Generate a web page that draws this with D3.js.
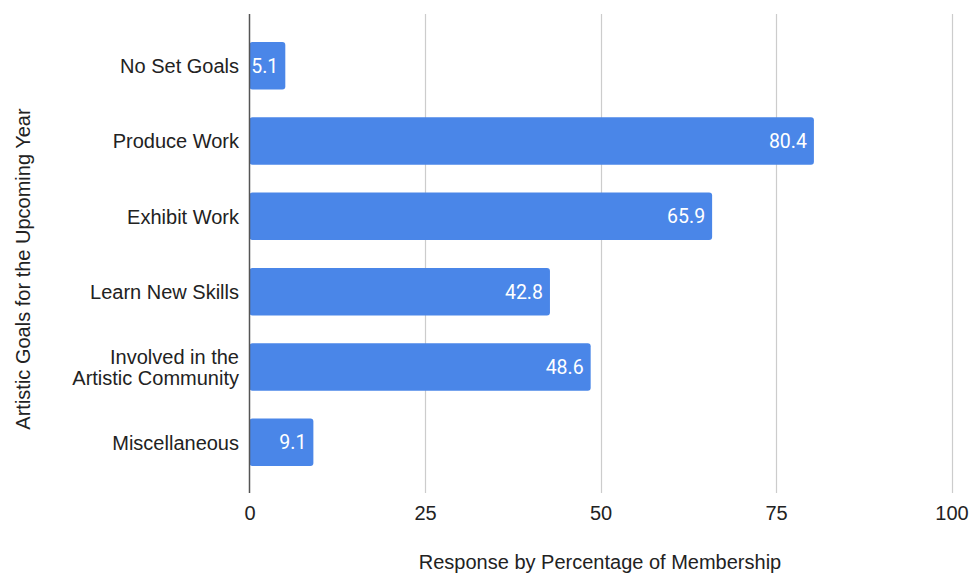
<!DOCTYPE html>
<html>
<head>
<meta charset="utf-8">
<script src="https://cdn.jsdelivr.net/npm/d3@7"></script>
<style>
  html, body { margin: 0; padding: 0; background: #fff; }
  svg { display: block; font-family: "Liberation Sans", Arial, sans-serif; }
</style>
</head>
<body>
<svg id="chart" width="974" height="577"></svg>
<script>
// Survey responses: artistic goals for the upcoming year (% of membership)
const categories = [
  "No Set Goals",
  "Produce Work",
  "Exhibit Work",
  "Learn New Skills",
  "Involved in the Artistic Community",
  "Miscellaneous"
];
const values = [5.1, 80.4, 65.9, 42.8, 48.6, 9.1];
const xTicks = [0, 25, 50, 75, 100];
const xTitle = "Response by Percentage of Membership";
const yTitle = "Artistic Goals for the Upcoming Year";

const svg = d3.select("#chart");
const plot = { left: 249.5, right: 951.5, top: 14, bottom: 493 };
const fontSize = 20;

const x = d3.scaleLinear().domain([0, 100]).range([plot.left, plot.right]);
const y = d3.scaleBand()
  .domain(categories)
  .range([28, 480])
  .paddingInner(0.37)
  .paddingOuter(0.185);

// vertical gridlines
svg.append("g")
  .selectAll("line")
  .data(xTicks.filter(t => t > 0))
  .join("line")
  .attr("x1", d => Math.round(x(d)) + 0.5)
  .attr("x2", d => Math.round(x(d)) + 0.5)
  .attr("y1", plot.top)
  .attr("y2", plot.bottom)
  .attr("stroke", "#cccccc")
  .attr("stroke-width", 1.2);

// x tick labels via a bottom axis with hidden domain/ticks
const xAxis = svg.append("g")
  .attr("transform", `translate(0,${plot.bottom})`)
  .call(d3.axisBottom(x).tickValues(xTicks).tickSize(0).tickPadding(13));
xAxis.select(".domain").remove();
xAxis.selectAll("text")
  .attr("font-family", "Liberation Sans, Arial, sans-serif")
  .attr("font-size", fontSize)
  .attr("fill", "#222");

// bars
svg.append("g")
  .selectAll("rect")
  .data(categories.map((c, i) => ({ c, v: values[i] })))
  .join("rect")
  .attr("x", x(0))
  .attr("y", d => y(d.c))
  .attr("width", d => x(d.v) - x(0))
  .attr("height", y.bandwidth())
  .attr("rx", 3)
  .attr("fill", "#4a86e8");

// baseline axis line
svg.append("line")
  .attr("x1", Math.round(x(0)) - 0.5)
  .attr("x2", Math.round(x(0)) - 0.5)
  .attr("y1", plot.top)
  .attr("y2", plot.bottom)
  .attr("stroke", "#555")
  .attr("stroke-width", 1.5);

// value labels inside the bar ends
svg.append("g")
  .selectAll("text")
  .data(categories.map((c, i) => ({ c, v: values[i] })))
  .join("text")
  .attr("x", d => x(d.v) - 7)
  .attr("y", d => y(d.c) + y.bandwidth() / 2)
  .attr("dy", "0.36em")
  .attr("text-anchor", "end")
  .attr("font-family", "Roboto, sans-serif")
  .attr("font-weight", 400)
  .attr("font-size", 19.5)
  .attr("fill", "#fff")
  .text(d => d.v.toFixed(1));

// category labels, wrapped to a max width
const maxLabelWidth = 185;
const measure = svg.append("text").attr("font-size", fontSize).attr("visibility", "hidden");
function wrap(str) {
  const words = str.split(" ");
  const lines = [];
  let cur = "";
  for (const w of words) {
    const trial = cur ? cur + " " + w : w;
    measure.text(trial);
    if (cur && measure.node().getComputedTextLength() > maxLabelWidth) {
      lines.push(cur);
      cur = w;
    } else {
      cur = trial;
    }
  }
  if (cur) lines.push(cur);
  return lines;
}
const lineH = 21;
const catLabels = svg.append("g")
  .selectAll("text")
  .data(categories)
  .join("text")
  .attr("text-anchor", "end")
  .attr("font-size", fontSize)
  .attr("fill", "#222");
catLabels.each(function(c) {
  const lines = wrap(c);
  const cy = y(c) + y.bandwidth() / 2;
  const t = d3.select(this);
  lines.forEach((ln, i) => {
    t.append("tspan")
      .attr("x", 239)
      .attr("y", cy + (i - (lines.length - 1) / 2) * lineH)
      .attr("dy", "0.36em")
      .text(ln);
  });
});
measure.remove();

// axis titles
svg.append("text")
  .attr("x", 600)
  .attr("y", 562)
  .attr("dy", "0.36em")
  .attr("text-anchor", "middle")
  .attr("font-size", fontSize)
  .attr("fill", "#222")
  .text(xTitle);

svg.append("text")
  .attr("transform", `translate(23,269) rotate(-90)`)
  .attr("dy", "0.36em")
  .attr("text-anchor", "middle")
  .attr("font-size", fontSize)
  .attr("fill", "#222")
  .text(yTitle);
</script>
</body>
</html>
